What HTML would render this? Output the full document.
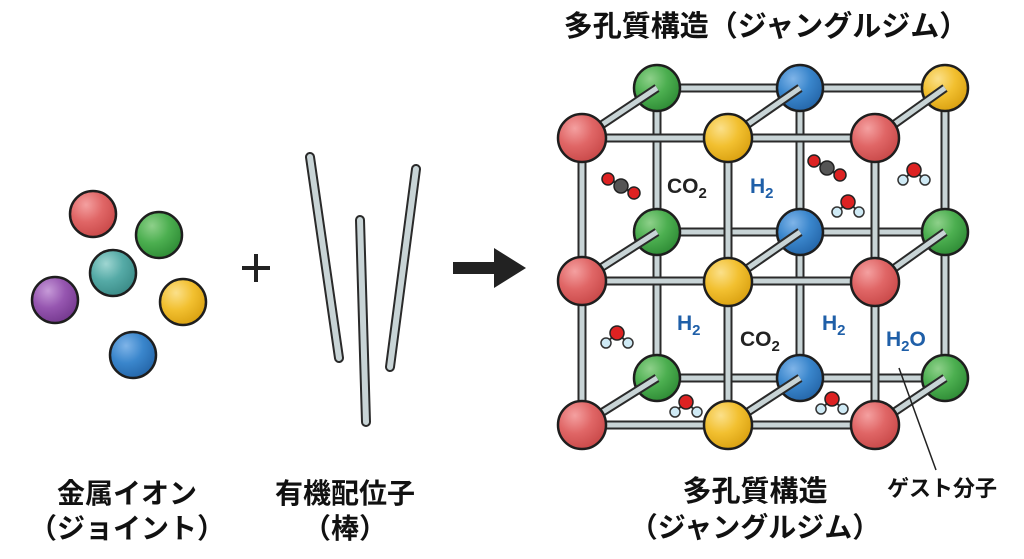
<!DOCTYPE html>
<html><head><meta charset="utf-8"><style>
html,body{margin:0;padding:0;background:#fff;width:1024px;height:559px;overflow:hidden}
svg{display:block}
text{font-family:"Liberation Sans","Noto Sans CJK JP",sans-serif;font-weight:bold}
</style></head><body>
<svg width="1024" height="559" viewBox="0 0 1024 559" xmlns="http://www.w3.org/2000/svg">
<defs>
<radialGradient id="gr" cx="0.35" cy="0.3" r="0.75"><stop offset="0" stop-color="#f4a0a0"/><stop offset="0.5" stop-color="#e06666"/><stop offset="1" stop-color="#c84848"/></radialGradient>
<radialGradient id="gg" cx="0.35" cy="0.3" r="0.75"><stop offset="0" stop-color="#8ed08a"/><stop offset="0.5" stop-color="#4caf50"/><stop offset="1" stop-color="#2e8b35"/></radialGradient>
<radialGradient id="gb" cx="0.35" cy="0.3" r="0.75"><stop offset="0" stop-color="#7fb4e8"/><stop offset="0.5" stop-color="#3a86cc"/><stop offset="1" stop-color="#2465a8"/></radialGradient>
<radialGradient id="gy" cx="0.35" cy="0.3" r="0.75"><stop offset="0" stop-color="#fbe08a"/><stop offset="0.5" stop-color="#f2c030"/><stop offset="1" stop-color="#d9a010"/></radialGradient>
<radialGradient id="gt" cx="0.35" cy="0.3" r="0.75"><stop offset="0" stop-color="#9fd6d2"/><stop offset="0.5" stop-color="#55aaa6"/><stop offset="1" stop-color="#3a8a86"/></radialGradient>
<radialGradient id="gp" cx="0.35" cy="0.3" r="0.75"><stop offset="0" stop-color="#c69ad8"/><stop offset="0.5" stop-color="#9656b0"/><stop offset="1" stop-color="#74388e"/></radialGradient>
<g id="wat"><line x1="-10" y1="9" x2="0" y2="0" stroke="#333" stroke-width="2"/><line x1="10" y1="9" x2="0" y2="0" stroke="#333" stroke-width="2"/><circle cx="0" cy="0" r="7" fill="#dd2222" stroke="#222" stroke-width="1.5"/><circle cx="-11" cy="10" r="5" fill="#cfeaf5" stroke="#333" stroke-width="1.5"/><circle cx="11" cy="10" r="5" fill="#cfeaf5" stroke="#333" stroke-width="1.5"/></g>
<g id="co2"><line x1="-13" y1="-8" x2="13" y2="8" stroke="#333" stroke-width="2.5"/><circle cx="-13" cy="-7" r="6" fill="#dd2222" stroke="#222" stroke-width="1.5"/><circle cx="0" cy="0" r="7" fill="#555" stroke="#222" stroke-width="1.5"/><circle cx="13" cy="7" r="6" fill="#dd2222" stroke="#222" stroke-width="1.5"/></g>
</defs>
<style>
.rod{stroke:#2a2a2a;stroke-width:9;stroke-linecap:butt}
.rodi{stroke:#c8d4d6;stroke-width:5}
.s{stroke:#1e1e1e;stroke-width:2.5}
</style>

<g class="s">
<circle cx="93" cy="214" r="23" fill="url(#gr)"/>
<circle cx="159" cy="235" r="23" fill="url(#gg)"/>
<circle cx="113" cy="273" r="23" fill="url(#gt)"/>
<circle cx="55" cy="300" r="23" fill="url(#gp)"/>
<circle cx="183" cy="302" r="23" fill="url(#gy)"/>
<circle cx="133" cy="355" r="23" fill="url(#gb)"/>
</g>
<path d="M242 268H270M256 254V282" stroke="#222" stroke-width="4"/>

<g stroke-linecap="round">
<line x1="310" y1="157" x2="339" y2="358" stroke="#2a2a2a" stroke-width="10"/><line x1="310" y1="157" x2="339" y2="358" stroke="#c8d4d6" stroke-width="6"/>
<line x1="360" y1="220" x2="366" y2="422" stroke="#2a2a2a" stroke-width="10"/><line x1="360" y1="220" x2="366" y2="422" stroke="#c8d4d6" stroke-width="6"/>
<line x1="416" y1="169" x2="390" y2="367" stroke="#2a2a2a" stroke-width="10"/><line x1="416" y1="169" x2="390" y2="367" stroke="#c8d4d6" stroke-width="6"/>
</g>
<line x1="453" y1="268" x2="500" y2="268" stroke="#222" stroke-width="12"/>
<polygon points="494,248 526,268 494,288" fill="#222"/>

<g>
<path d="M657 88H945M657 232H945M657 378H945M657 88V378M800 88V378M945 88V378" class="rod" fill="none"/>
<path d="M657 88H945M657 232H945M657 378H945M657 88V378M800 88V378M945 88V378" class="rodi" fill="none"/>
</g>
<g class="s">
<circle cx="657" cy="88" r="23" fill="url(#gg)"/><circle cx="800" cy="88" r="23" fill="url(#gb)"/><circle cx="945" cy="88" r="23" fill="url(#gy)"/>
<circle cx="657" cy="232" r="23" fill="url(#gg)"/><circle cx="800" cy="232" r="23" fill="url(#gb)"/><circle cx="945" cy="232" r="23" fill="url(#gg)"/>
<circle cx="657" cy="378" r="23" fill="url(#gg)"/><circle cx="800" cy="378" r="23" fill="url(#gb)"/><circle cx="945" cy="378" r="23" fill="url(#gg)"/>
</g>
<g>
<path d="M582 138L657 88M728 138L800 88M875 138L945 88M582 280L657 232M728 282L800 232M875 282L945 232M582 425L657 378M728 425L800 378M875 425L945 378" class="rod" fill="none"/>
<path d="M582 138L657 88M728 138L800 88M875 138L945 88M582 280L657 232M728 282L800 232M875 282L945 232M582 425L657 378M728 425L800 378M875 425L945 378" class="rodi" fill="none"/>
</g>
<g>
<path d="M582 138H875M582 281H875M582 425H875M582 138V425M728 138V425M875 138V425" class="rod" fill="none"/>
<path d="M582 138H875M582 281H875M582 425H875M582 138V425M728 138V425M875 138V425" class="rodi" fill="none"/>
</g>
<use href="#co2" x="621" y="186"/>
<use href="#co2" x="827" y="168"/>
<use href="#wat" x="914" y="170"/>
<use href="#wat" x="848" y="202"/>
<use href="#wat" x="617" y="333"/>
<use href="#wat" x="686" y="402"/>
<use href="#wat" x="832" y="399"/>
<g font-size="21">
<text x="667" y="193" fill="#222">CO<tspan font-size="15" dy="5">2</tspan></text>
<text x="750" y="193" fill="#1f5fa8">H<tspan font-size="15" dy="5">2</tspan></text>
<text x="677" y="330" fill="#1f5fa8">H<tspan font-size="15" dy="5">2</tspan></text>
<text x="740" y="346" fill="#222">CO<tspan font-size="15" dy="5">2</tspan></text>
<text x="822" y="330" fill="#1f5fa8">H<tspan font-size="15" dy="5">2</tspan></text>
<text x="886" y="346" fill="#1f5fa8">H<tspan font-size="15" dy="5">2</tspan><tspan dy="-5">O</tspan></text>
</g>
<g class="s">
<circle cx="582" cy="138" r="24" fill="url(#gr)"/><circle cx="728" cy="138" r="24" fill="url(#gy)"/><circle cx="875" cy="138" r="24" fill="url(#gr)"/>
<circle cx="582" cy="281" r="24" fill="url(#gr)"/><circle cx="728" cy="282" r="24" fill="url(#gy)"/><circle cx="875" cy="282" r="24" fill="url(#gr)"/>
<circle cx="582" cy="425" r="24" fill="url(#gr)"/><circle cx="728" cy="425" r="24" fill="url(#gy)"/><circle cx="875" cy="425" r="24" fill="url(#gr)"/>
</g>
<line x1="899" y1="368" x2="936" y2="470" stroke="#222" stroke-width="1.5"/>

<text x="766" y="36" font-size="29" text-anchor="middle" fill="#111">多孔質構造（ジャングルジム）</text>
<text x="127" y="503" font-size="28" text-anchor="middle" fill="#111">金属イオン</text>
<text x="127" y="538" font-size="28" text-anchor="middle" fill="#111">（ジョイント）</text>
<text x="345" y="503" font-size="28" text-anchor="middle" fill="#111">有機配位子</text>
<text x="345" y="538" font-size="28" text-anchor="middle" fill="#111">（棒）</text>
<text x="755" y="501" font-size="29" text-anchor="middle" fill="#111">多孔質構造</text>
<text x="755" y="537" font-size="28" text-anchor="middle" fill="#111">（ジャングルジム）</text>
<text x="942" y="496" font-size="22" text-anchor="middle" fill="#111">ゲスト分子</text>
</svg>
</body></html>
